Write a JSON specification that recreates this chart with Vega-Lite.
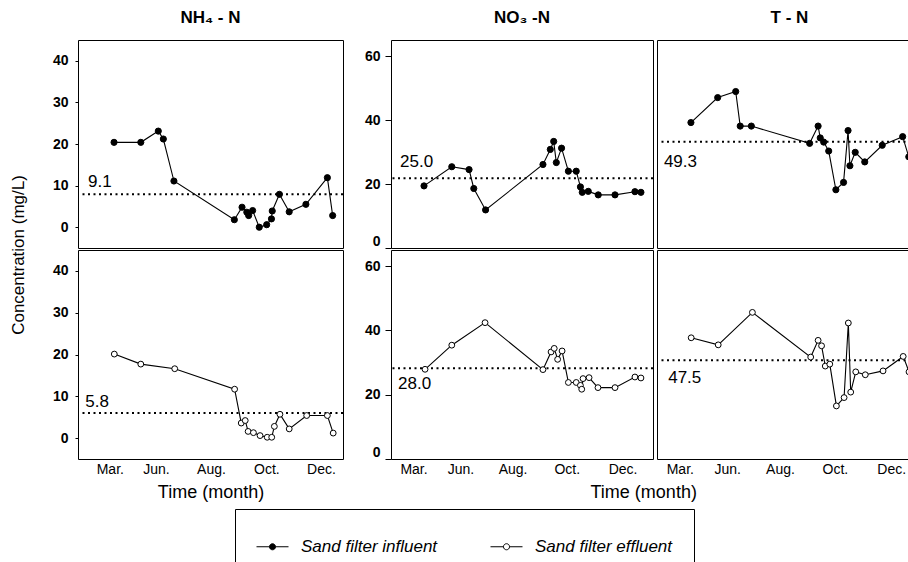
{
  "$schema": "https://vega.github.io/schema/vega-lite/v6.json",
  "background": "white",
  "padding": {"left": 9, "top": 8, "right": 0, "bottom": 0},
  "config": {
    "font": "Liberation Sans",
    "view": {"stroke": "black", "strokeWidth": 1},
    "axis": {"labelColor": "black", "titleColor": "black", "tickColor": "black", "domainColor": "black", "grid": false, "labelFlush": false, "labelOverlap": false},
    "title": {"color": "black"}
  },
  "data": {"values": [
      {"kind": "obs", "panel": "NH4", "series": "Sand filter influent", "t": 13.6, "value": 20.4},
      {"kind": "obs", "panel": "NH4", "series": "Sand filter influent", "t": 23.7, "value": 20.4},
      {"kind": "obs", "panel": "NH4", "series": "Sand filter influent", "t": 30.3, "value": 23.1},
      {"kind": "obs", "panel": "NH4", "series": "Sand filter influent", "t": 32.2, "value": 21.2},
      {"kind": "obs", "panel": "NH4", "series": "Sand filter influent", "t": 36.2, "value": 11.1},
      {"kind": "obs", "panel": "NH4", "series": "Sand filter influent", "t": 59.0, "value": 1.8},
      {"kind": "obs", "panel": "NH4", "series": "Sand filter influent", "t": 61.9, "value": 4.8},
      {"kind": "obs", "panel": "NH4", "series": "Sand filter influent", "t": 63.7, "value": 3.6},
      {"kind": "obs", "panel": "NH4", "series": "Sand filter influent", "t": 64.4, "value": 2.8},
      {"kind": "obs", "panel": "NH4", "series": "Sand filter influent", "t": 65.9, "value": 4.0},
      {"kind": "obs", "panel": "NH4", "series": "Sand filter influent", "t": 68.4, "value": 0.0},
      {"kind": "obs", "panel": "NH4", "series": "Sand filter influent", "t": 71.2, "value": 0.6},
      {"kind": "obs", "panel": "NH4", "series": "Sand filter influent", "t": 73.0, "value": 2.0},
      {"kind": "obs", "panel": "NH4", "series": "Sand filter influent", "t": 73.3, "value": 3.9},
      {"kind": "obs", "panel": "NH4", "series": "Sand filter influent", "t": 76.0, "value": 7.9},
      {"kind": "obs", "panel": "NH4", "series": "Sand filter influent", "t": 79.7, "value": 3.7},
      {"kind": "obs", "panel": "NH4", "series": "Sand filter influent", "t": 86.0, "value": 5.5},
      {"kind": "obs", "panel": "NH4", "series": "Sand filter influent", "t": 94.1, "value": 11.9},
      {"kind": "obs", "panel": "NH4", "series": "Sand filter influent", "t": 96.1, "value": 2.8},
      {"kind": "obs", "panel": "NH4", "series": "Sand filter effluent", "t": 13.7, "value": 20.1},
      {"kind": "obs", "panel": "NH4", "series": "Sand filter effluent", "t": 23.7, "value": 17.7},
      {"kind": "obs", "panel": "NH4", "series": "Sand filter effluent", "t": 36.5, "value": 16.6},
      {"kind": "obs", "panel": "NH4", "series": "Sand filter effluent", "t": 59.1, "value": 11.7},
      {"kind": "obs", "panel": "NH4", "series": "Sand filter effluent", "t": 61.6, "value": 3.6},
      {"kind": "obs", "panel": "NH4", "series": "Sand filter effluent", "t": 63.1, "value": 4.2},
      {"kind": "obs", "panel": "NH4", "series": "Sand filter effluent", "t": 64.2, "value": 1.6},
      {"kind": "obs", "panel": "NH4", "series": "Sand filter effluent", "t": 66.2, "value": 1.3},
      {"kind": "obs", "panel": "NH4", "series": "Sand filter effluent", "t": 68.7, "value": 0.6},
      {"kind": "obs", "panel": "NH4", "series": "Sand filter effluent", "t": 71.4, "value": 0.2},
      {"kind": "obs", "panel": "NH4", "series": "Sand filter effluent", "t": 73.1, "value": 0.2},
      {"kind": "obs", "panel": "NH4", "series": "Sand filter effluent", "t": 74.1, "value": 2.8},
      {"kind": "obs", "panel": "NH4", "series": "Sand filter effluent", "t": 76.2, "value": 5.7},
      {"kind": "obs", "panel": "NH4", "series": "Sand filter effluent", "t": 79.7, "value": 2.2},
      {"kind": "obs", "panel": "NH4", "series": "Sand filter effluent", "t": 86.3, "value": 5.4},
      {"kind": "obs", "panel": "NH4", "series": "Sand filter effluent", "t": 94.1, "value": 5.4},
      {"kind": "obs", "panel": "NH4", "series": "Sand filter effluent", "t": 96.3, "value": 1.2},
      {"kind": "obs", "panel": "NO3", "series": "Sand filter influent", "t": 12.6, "value": 19.4},
      {"kind": "obs", "panel": "NO3", "series": "Sand filter influent", "t": 23.2, "value": 25.4},
      {"kind": "obs", "panel": "NO3", "series": "Sand filter influent", "t": 29.8, "value": 24.5},
      {"kind": "obs", "panel": "NO3", "series": "Sand filter influent", "t": 31.6, "value": 18.6},
      {"kind": "obs", "panel": "NO3", "series": "Sand filter influent", "t": 36.1, "value": 11.9},
      {"kind": "obs", "panel": "NO3", "series": "Sand filter influent", "t": 58.0, "value": 26.1},
      {"kind": "obs", "panel": "NO3", "series": "Sand filter influent", "t": 60.8, "value": 30.8},
      {"kind": "obs", "panel": "NO3", "series": "Sand filter influent", "t": 62.1, "value": 33.3},
      {"kind": "obs", "panel": "NO3", "series": "Sand filter influent", "t": 63.1, "value": 26.7},
      {"kind": "obs", "panel": "NO3", "series": "Sand filter influent", "t": 65.1, "value": 31.2},
      {"kind": "obs", "panel": "NO3", "series": "Sand filter influent", "t": 67.7, "value": 24.0},
      {"kind": "obs", "panel": "NO3", "series": "Sand filter influent", "t": 70.7, "value": 24.0},
      {"kind": "obs", "panel": "NO3", "series": "Sand filter influent", "t": 72.3, "value": 19.1},
      {"kind": "obs", "panel": "NO3", "series": "Sand filter influent", "t": 73.0, "value": 17.4},
      {"kind": "obs", "panel": "NO3", "series": "Sand filter influent", "t": 75.3, "value": 17.7},
      {"kind": "obs", "panel": "NO3", "series": "Sand filter influent", "t": 79.1, "value": 16.6},
      {"kind": "obs", "panel": "NO3", "series": "Sand filter influent", "t": 85.5, "value": 16.6},
      {"kind": "obs", "panel": "NO3", "series": "Sand filter influent", "t": 93.1, "value": 17.6},
      {"kind": "obs", "panel": "NO3", "series": "Sand filter influent", "t": 95.4, "value": 17.4},
      {"kind": "obs", "panel": "NO3", "series": "Sand filter effluent", "t": 13.0, "value": 27.9},
      {"kind": "obs", "panel": "NO3", "series": "Sand filter effluent", "t": 23.2, "value": 35.4},
      {"kind": "obs", "panel": "NO3", "series": "Sand filter effluent", "t": 35.9, "value": 42.4},
      {"kind": "obs", "panel": "NO3", "series": "Sand filter effluent", "t": 58.0, "value": 27.8},
      {"kind": "obs", "panel": "NO3", "series": "Sand filter effluent", "t": 61.1, "value": 33.3},
      {"kind": "obs", "panel": "NO3", "series": "Sand filter effluent", "t": 62.3, "value": 34.4},
      {"kind": "obs", "panel": "NO3", "series": "Sand filter effluent", "t": 63.6, "value": 31.0},
      {"kind": "obs", "panel": "NO3", "series": "Sand filter effluent", "t": 65.3, "value": 33.6},
      {"kind": "obs", "panel": "NO3", "series": "Sand filter effluent", "t": 67.7, "value": 23.8},
      {"kind": "obs", "panel": "NO3", "series": "Sand filter effluent", "t": 70.7, "value": 23.8},
      {"kind": "obs", "panel": "NO3", "series": "Sand filter effluent", "t": 72.3, "value": 22.9},
      {"kind": "obs", "panel": "NO3", "series": "Sand filter effluent", "t": 72.8, "value": 21.7},
      {"kind": "obs", "panel": "NO3", "series": "Sand filter effluent", "t": 73.3, "value": 25.0},
      {"kind": "obs", "panel": "NO3", "series": "Sand filter effluent", "t": 75.6, "value": 25.3},
      {"kind": "obs", "panel": "NO3", "series": "Sand filter effluent", "t": 79.0, "value": 22.2},
      {"kind": "obs", "panel": "NO3", "series": "Sand filter effluent", "t": 85.5, "value": 22.2},
      {"kind": "obs", "panel": "NO3", "series": "Sand filter effluent", "t": 93.1, "value": 25.5},
      {"kind": "obs", "panel": "NO3", "series": "Sand filter effluent", "t": 95.4, "value": 25.2},
      {"kind": "obs", "panel": "TN", "series": "Sand filter influent", "t": 12.8, "value": 39.2},
      {"kind": "obs", "panel": "TN", "series": "Sand filter influent", "t": 22.9, "value": 47.0},
      {"kind": "obs", "panel": "TN", "series": "Sand filter influent", "t": 29.7, "value": 48.9},
      {"kind": "obs", "panel": "TN", "series": "Sand filter influent", "t": 31.4, "value": 38.1},
      {"kind": "obs", "panel": "TN", "series": "Sand filter influent", "t": 35.6, "value": 38.1},
      {"kind": "obs", "panel": "TN", "series": "Sand filter influent", "t": 57.6, "value": 32.7},
      {"kind": "obs", "panel": "TN", "series": "Sand filter influent", "t": 60.8, "value": 38.1},
      {"kind": "obs", "panel": "TN", "series": "Sand filter influent", "t": 61.6, "value": 34.4},
      {"kind": "obs", "panel": "TN", "series": "Sand filter influent", "t": 62.9, "value": 33.1},
      {"kind": "obs", "panel": "TN", "series": "Sand filter influent", "t": 64.8, "value": 30.3},
      {"kind": "obs", "panel": "TN", "series": "Sand filter influent", "t": 67.5, "value": 18.2},
      {"kind": "obs", "panel": "TN", "series": "Sand filter influent", "t": 70.4, "value": 20.5},
      {"kind": "obs", "panel": "TN", "series": "Sand filter influent", "t": 72.1, "value": 36.7},
      {"kind": "obs", "panel": "TN", "series": "Sand filter influent", "t": 72.8, "value": 25.7},
      {"kind": "obs", "panel": "TN", "series": "Sand filter influent", "t": 74.8, "value": 29.9},
      {"kind": "obs", "panel": "TN", "series": "Sand filter influent", "t": 78.4, "value": 26.9},
      {"kind": "obs", "panel": "TN", "series": "Sand filter influent", "t": 85.0, "value": 32.1},
      {"kind": "obs", "panel": "TN", "series": "Sand filter influent", "t": 92.7, "value": 34.8},
      {"kind": "obs", "panel": "TN", "series": "Sand filter influent", "t": 95.0, "value": 28.5},
      {"kind": "obs", "panel": "TN", "series": "Sand filter effluent", "t": 12.9, "value": 37.7},
      {"kind": "obs", "panel": "TN", "series": "Sand filter effluent", "t": 23.1, "value": 35.5},
      {"kind": "obs", "panel": "TN", "series": "Sand filter effluent", "t": 36.0, "value": 45.6},
      {"kind": "obs", "panel": "TN", "series": "Sand filter effluent", "t": 58.0, "value": 31.7},
      {"kind": "obs", "panel": "TN", "series": "Sand filter effluent", "t": 60.8, "value": 36.9},
      {"kind": "obs", "panel": "TN", "series": "Sand filter effluent", "t": 62.1, "value": 35.2},
      {"kind": "obs", "panel": "TN", "series": "Sand filter effluent", "t": 63.5, "value": 28.9},
      {"kind": "obs", "panel": "TN", "series": "Sand filter effluent", "t": 65.2, "value": 29.5},
      {"kind": "obs", "panel": "TN", "series": "Sand filter effluent", "t": 67.7, "value": 16.5},
      {"kind": "obs", "panel": "TN", "series": "Sand filter effluent", "t": 70.6, "value": 19.1},
      {"kind": "obs", "panel": "TN", "series": "Sand filter effluent", "t": 72.2, "value": 42.3},
      {"kind": "obs", "panel": "TN", "series": "Sand filter effluent", "t": 73.1, "value": 20.8},
      {"kind": "obs", "panel": "TN", "series": "Sand filter effluent", "t": 75.0, "value": 27.1},
      {"kind": "obs", "panel": "TN", "series": "Sand filter effluent", "t": 78.6, "value": 26.2},
      {"kind": "obs", "panel": "TN", "series": "Sand filter effluent", "t": 85.3, "value": 27.4},
      {"kind": "obs", "panel": "TN", "series": "Sand filter effluent", "t": 92.9, "value": 31.9},
      {"kind": "obs", "panel": "TN", "series": "Sand filter effluent", "t": 95.1, "value": 27.1},
      {"kind": "avg", "panel": "NH4", "series": "Sand filter influent", "avg": 7.9, "label": 9.1},
      {"kind": "avg", "panel": "NH4", "series": "Sand filter effluent", "avg": 6.0, "label": 5.8},
      {"kind": "avg", "panel": "NO3", "series": "Sand filter influent", "avg": 21.8, "label": 25.0},
      {"kind": "avg", "panel": "NO3", "series": "Sand filter effluent", "avg": 28.2, "label": 28.0},
      {"kind": "avg", "panel": "TN", "series": "Sand filter influent", "avg": 33.2, "label": 49.3},
      {"kind": "avg", "panel": "TN", "series": "Sand filter effluent", "avg": 30.7, "label": 47.5}
  ]},
  "hconcat": [
    {
      "title": {"text": "Concentration (mg/L)", "orient": "left", "anchor": "middle", "fontSize": 17, "fontWeight": "normal", "offset": 24},
      "vconcat": [
        {
          "width": 265, "height": 208,
          "title": {"text": "NH₄ - N", "fontSize": 17, "fontWeight": "bold", "offset": 13},
          "layer": [
            {"transform": [{"filter": "datum.kind == 'avg' && datum.panel == 'NH4' && datum.series == 'Sand filter influent'"}], "mark": {"type": "rule", "color": "black", "strokeWidth": 2, "strokeDash": [2, 3.5]},
             "encoding": {"y": {"field": "avg", "type": "quantitative", "scale": {"domain": [-5, 45], "nice": false, "zero": false}, "axis": {"values": [0, 10, 20, 30, 40], "title": null, "labelFontSize": 14, "labelFontWeight": "bold", "tickSize": 3, "labelPadding": 7, "labelOverlap": false, "domain": false}}}},
            {"transform": [{"filter": "datum.panel == 'NH4' && datum.series == 'Sand filter influent'"}], "mark": {"type": "text", "align": "left", "baseline": "middle", "dx": -26, "dy": -12, "fontSize": 17, "color": "black"},
             "encoding": {"x": {"aggregate": "min", "field": "t", "type": "quantitative", "axis": null}, "y": {"aggregate": "max", "field": "avg", "type": "quantitative"}, "text": {"aggregate": "max", "field": "label", "type": "quantitative", "format": ".1f"}}},
            {"transform": [{"filter": "datum.kind == 'obs' && datum.panel == 'NH4' && datum.series == 'Sand filter influent'"}], "mark": {"type": "line", "color": "black", "strokeWidth": 1.1},
             "encoding": {"x": {"field": "t", "type": "quantitative", "scale": {"domain": [0, 100], "nice": false}, "axis": null}, "y": {"field": "value", "type": "quantitative"}}},
            {"transform": [{"filter": "datum.kind == 'obs' && datum.panel == 'NH4' && datum.series == 'Sand filter influent'"}], "mark": {"type": "point", "shape": "circle", "filled": true, "size": 38, "stroke": "black", "strokeWidth": 1, "opacity": 1},
             "encoding": {"x": {"field": "t", "type": "quantitative", "axis": null}, "y": {"field": "value", "type": "quantitative"}, "fill": {"field": "series", "type": "nominal", "scale": {"domain": ["Sand filter influent", "Sand filter effluent"], "range": ["black", "white"]}, "legend": {"title": null, "orient": "none", "legendX": 157, "legendY": 469, "direction": "horizontal", "symbolType": "M-1,0H-0.19M0.19,0H1M-0.19,0A0.19,0.19 0 1,0 0.19,0A0.19,0.19 0 1,0 -0.19,0Z", "symbolSize": 1024, "symbolStrokeColor": "black", "symbolStrokeWidth": 1, "labelFontSize": 17, "labelFontStyle": "italic", "labelColor": "black", "labelOffset": 12, "labelLimit": 400, "columnPadding": 50, "padding": 21, "strokeColor": "black", "fillColor": "white"}}}}
          ]
        },
        {
          "width": 265, "height": 209,
          "layer": [
            {"transform": [{"filter": "datum.kind == 'avg' && datum.panel == 'NH4' && datum.series == 'Sand filter effluent'"}], "mark": {"type": "rule", "color": "black", "strokeWidth": 2, "strokeDash": [2, 3.5]},
             "encoding": {"y": {"field": "avg", "type": "quantitative", "scale": {"domain": [-5, 45], "nice": false, "zero": false}, "axis": {"values": [0, 10, 20, 30, 40], "title": null, "labelFontSize": 14, "labelFontWeight": "bold", "tickSize": 3, "labelPadding": 7, "labelOverlap": false, "domain": false}}}},
            {"transform": [{"filter": "datum.panel == 'NH4' && datum.series == 'Sand filter effluent'"}], "mark": {"type": "text", "align": "left", "baseline": "middle", "dx": -29, "dy": -11, "fontSize": 17, "color": "black"},
             "encoding": {"x": {"aggregate": "min", "field": "t", "type": "quantitative"}, "y": {"aggregate": "max", "field": "avg", "type": "quantitative"}, "text": {"aggregate": "max", "field": "label", "type": "quantitative", "format": ".1f"}}},
            {"transform": [{"filter": "datum.kind == 'obs' && datum.panel == 'NH4' && datum.series == 'Sand filter effluent'"}], "mark": {"type": "line", "color": "black", "strokeWidth": 1.1},
             "encoding": {"x": {"field": "t", "type": "quantitative", "scale": {"domain": [0, 100], "nice": false}, "axis": {"values": [12, 29.4, 50.2, 71.1, 91.7], "labelExpr": "datum.value < 20 ? 'Mar.' : datum.value < 40 ? 'Jun.' : datum.value < 60 ? 'Aug.' : datum.value < 80 ? 'Oct.' : 'Dec.'", "ticks": false, "domain": false, "labelPadding": 3, "labelFontSize": 14, "title": "Time (month)", "titleFontSize": 18, "titleFontWeight": "normal", "titlePadding": 7}}, "y": {"field": "value", "type": "quantitative"}}},
            {"transform": [{"filter": "datum.kind == 'obs' && datum.panel == 'NH4' && datum.series == 'Sand filter effluent'"}], "mark": {"type": "point", "shape": "circle", "filled": true, "size": 34, "stroke": "black", "strokeWidth": 1, "opacity": 1},
             "encoding": {"x": {"field": "t", "type": "quantitative"}, "y": {"field": "value", "type": "quantitative"}, "fill": {"field": "series", "type": "nominal", "scale": {"domain": ["Sand filter influent", "Sand filter effluent"], "range": ["black", "white"]}, "legend": {"title": null, "orient": "none", "legendX": 157, "legendY": 469, "direction": "horizontal", "symbolType": "M-1,0H-0.19M0.19,0H1M-0.19,0A0.19,0.19 0 1,0 0.19,0A0.19,0.19 0 1,0 -0.19,0Z", "symbolSize": 1024, "symbolStrokeColor": "black", "symbolStrokeWidth": 1, "labelFontSize": 17, "labelFontStyle": "italic", "labelColor": "black", "labelOffset": 12, "labelLimit": 400, "columnPadding": 50, "padding": 21, "strokeColor": "black", "fillColor": "white"}}}}
          ]
        }
      ],
      "spacing": 0
    },
    {
      "title": {"text": "Time (month)", "orient": "bottom", "anchor": "middle", "fontSize": 18, "fontWeight": "normal", "offset": 7},
      "hconcat": [
        {
          "vconcat": [
            {
              "width": 262, "height": 208,
              "title": {"text": "NO₃ -N", "fontSize": 17, "fontWeight": "bold", "offset": 13},
              "layer": [
                {"transform": [{"filter": "datum.kind == 'avg' && datum.panel == 'NO3' && datum.series == 'Sand filter influent'"}], "mark": {"type": "rule", "color": "black", "strokeWidth": 2, "strokeDash": [2, 3.5]},
                 "encoding": {"y": {"field": "avg", "type": "quantitative", "scale": {"domain": [0, 65], "nice": false, "zero": false}, "axis": {"values": [0, 10, 20, 30, 40, 50, 60], "title": null, "labelFontSize": 14, "labelFontWeight": "bold", "tickSize": 6, "labelPadding": 5, "labelFlush": true, "labelOverlap": false, "domain": false}}}},
                {"transform": [{"filter": "datum.panel == 'NO3' && datum.series == 'Sand filter influent'"}], "mark": {"type": "text", "align": "left", "baseline": "middle", "dx": -24, "dy": -16, "fontSize": 17, "color": "black"},
                 "encoding": {"x": {"aggregate": "min", "field": "t", "type": "quantitative", "axis": null}, "y": {"aggregate": "max", "field": "avg", "type": "quantitative"}, "text": {"aggregate": "max", "field": "label", "type": "quantitative", "format": ".1f"}}},
                {"transform": [{"filter": "datum.kind == 'obs' && datum.panel == 'NO3' && datum.series == 'Sand filter influent'"}], "mark": {"type": "line", "color": "black", "strokeWidth": 1.1},
                 "encoding": {"x": {"field": "t", "type": "quantitative", "scale": {"domain": [0, 100], "nice": false}, "axis": null}, "y": {"field": "value", "type": "quantitative"}}},
                {"transform": [{"filter": "datum.kind == 'obs' && datum.panel == 'NO3' && datum.series == 'Sand filter influent'"}], "mark": {"type": "point", "shape": "circle", "filled": true, "size": 38, "stroke": "black", "strokeWidth": 1, "opacity": 1},
                 "encoding": {"x": {"field": "t", "type": "quantitative", "axis": null}, "y": {"field": "value", "type": "quantitative"}, "fill": {"field": "series", "type": "nominal", "scale": {"domain": ["Sand filter influent", "Sand filter effluent"], "range": ["black", "white"]}, "legend": {"title": null, "orient": "none", "legendX": 157, "legendY": 469, "direction": "horizontal", "symbolType": "M-1,0H-0.19M0.19,0H1M-0.19,0A0.19,0.19 0 1,0 0.19,0A0.19,0.19 0 1,0 -0.19,0Z", "symbolSize": 1024, "symbolStrokeColor": "black", "symbolStrokeWidth": 1, "labelFontSize": 17, "labelFontStyle": "italic", "labelColor": "black", "labelOffset": 12, "labelLimit": 400, "columnPadding": 50, "padding": 21, "strokeColor": "black", "fillColor": "white"}}}}
              ]
            },
            {
              "width": 262, "height": 209,
              "layer": [
                {"transform": [{"filter": "datum.kind == 'avg' && datum.panel == 'NO3' && datum.series == 'Sand filter effluent'"}], "mark": {"type": "rule", "color": "black", "strokeWidth": 2, "strokeDash": [2, 3.5]},
                 "encoding": {"y": {"field": "avg", "type": "quantitative", "scale": {"domain": [0, 65], "nice": false, "zero": false}, "axis": {"values": [0, 10, 20, 30, 40, 50, 60], "title": null, "labelFontSize": 14, "labelFontWeight": "bold", "tickSize": 6, "labelPadding": 5, "labelFlush": true, "labelOverlap": false, "domain": false}}}},
                {"transform": [{"filter": "datum.panel == 'NO3' && datum.series == 'Sand filter effluent'"}], "mark": {"type": "text", "align": "left", "baseline": "middle", "dx": -27, "dy": 16, "fontSize": 17, "color": "black"},
                 "encoding": {"x": {"aggregate": "min", "field": "t", "type": "quantitative"}, "y": {"aggregate": "max", "field": "avg", "type": "quantitative"}, "text": {"aggregate": "max", "field": "label", "type": "quantitative", "format": ".1f"}}},
                {"transform": [{"filter": "datum.kind == 'obs' && datum.panel == 'NO3' && datum.series == 'Sand filter effluent'"}], "mark": {"type": "line", "color": "black", "strokeWidth": 1.1},
                 "encoding": {"x": {"field": "t", "type": "quantitative", "scale": {"domain": [0, 100], "nice": false}, "axis": {"values": [8.6, 26.5, 46.4, 67.1, 88.4], "labelExpr": "datum.value < 20 ? 'Mar.' : datum.value < 40 ? 'Jun.' : datum.value < 60 ? 'Aug.' : datum.value < 80 ? 'Oct.' : 'Dec.'", "ticks": false, "domain": false, "labelPadding": 3, "labelFontSize": 14, "title": null}}, "y": {"field": "value", "type": "quantitative"}}},
                {"transform": [{"filter": "datum.kind == 'obs' && datum.panel == 'NO3' && datum.series == 'Sand filter effluent'"}], "mark": {"type": "point", "shape": "circle", "filled": true, "size": 34, "stroke": "black", "strokeWidth": 1, "opacity": 1},
                 "encoding": {"x": {"field": "t", "type": "quantitative"}, "y": {"field": "value", "type": "quantitative"}, "fill": {"field": "series", "type": "nominal", "scale": {"domain": ["Sand filter influent", "Sand filter effluent"], "range": ["black", "white"]}, "legend": {"title": null, "orient": "none", "legendX": 157, "legendY": 469, "direction": "horizontal", "symbolType": "M-1,0H-0.19M0.19,0H1M-0.19,0A0.19,0.19 0 1,0 0.19,0A0.19,0.19 0 1,0 -0.19,0Z", "symbolSize": 1024, "symbolStrokeColor": "black", "symbolStrokeWidth": 1, "labelFontSize": 17, "labelFontStyle": "italic", "labelColor": "black", "labelOffset": 12, "labelLimit": 400, "columnPadding": 50, "padding": 21, "strokeColor": "black", "fillColor": "white"}}}}
              ]
            }
          ],
          "spacing": 0
        },
        {
          "vconcat": [
            {
              "width": 265, "height": 208,
              "title": {"text": "T - N", "fontSize": 17, "fontWeight": "bold", "offset": 13},
              "layer": [
                {"transform": [{"filter": "datum.kind == 'avg' && datum.panel == 'TN' && datum.series == 'Sand filter influent'"}], "mark": {"type": "rule", "color": "black", "strokeWidth": 2, "strokeDash": [2, 3.5]},
                 "encoding": {"y": {"field": "avg", "type": "quantitative", "scale": {"domain": [0, 65], "nice": false, "zero": false}, "axis": null}}},
                {"transform": [{"filter": "datum.panel == 'TN' && datum.series == 'Sand filter influent'"}], "mark": {"type": "text", "align": "left", "baseline": "middle", "dx": -27, "dy": 20, "fontSize": 17, "color": "black"},
                 "encoding": {"x": {"aggregate": "min", "field": "t", "type": "quantitative", "axis": null}, "y": {"aggregate": "max", "field": "avg", "type": "quantitative", "axis": null}, "text": {"aggregate": "max", "field": "label", "type": "quantitative", "format": ".1f"}}},
                {"transform": [{"filter": "datum.kind == 'obs' && datum.panel == 'TN' && datum.series == 'Sand filter influent'"}], "mark": {"type": "line", "color": "black", "strokeWidth": 1.1},
                 "encoding": {"x": {"field": "t", "type": "quantitative", "scale": {"domain": [0, 100], "nice": false}, "axis": null}, "y": {"field": "value", "type": "quantitative", "axis": null}}},
                {"transform": [{"filter": "datum.kind == 'obs' && datum.panel == 'TN' && datum.series == 'Sand filter influent'"}], "mark": {"type": "point", "shape": "circle", "filled": true, "size": 38, "stroke": "black", "strokeWidth": 1, "opacity": 1},
                 "encoding": {"x": {"field": "t", "type": "quantitative", "axis": null}, "y": {"field": "value", "type": "quantitative", "axis": null}, "fill": {"field": "series", "type": "nominal", "scale": {"domain": ["Sand filter influent", "Sand filter effluent"], "range": ["black", "white"]}, "legend": {"title": null, "orient": "none", "legendX": 157, "legendY": 469, "direction": "horizontal", "symbolType": "M-1,0H-0.19M0.19,0H1M-0.19,0A0.19,0.19 0 1,0 0.19,0A0.19,0.19 0 1,0 -0.19,0Z", "symbolSize": 1024, "symbolStrokeColor": "black", "symbolStrokeWidth": 1, "labelFontSize": 17, "labelFontStyle": "italic", "labelColor": "black", "labelOffset": 12, "labelLimit": 400, "columnPadding": 50, "padding": 21, "strokeColor": "black", "fillColor": "white"}}}}
              ]
            },
            {
              "width": 265, "height": 209,
              "layer": [
                {"transform": [{"filter": "datum.kind == 'avg' && datum.panel == 'TN' && datum.series == 'Sand filter effluent'"}], "mark": {"type": "rule", "color": "black", "strokeWidth": 2, "strokeDash": [2, 3.5]},
                 "encoding": {"y": {"field": "avg", "type": "quantitative", "scale": {"domain": [0, 65], "nice": false, "zero": false}, "axis": null}}},
                {"transform": [{"filter": "datum.panel == 'TN' && datum.series == 'Sand filter effluent'"}], "mark": {"type": "text", "align": "left", "baseline": "middle", "dx": -23, "dy": 18, "fontSize": 17, "color": "black"},
                 "encoding": {"x": {"aggregate": "min", "field": "t", "type": "quantitative"}, "y": {"aggregate": "max", "field": "avg", "type": "quantitative", "axis": null}, "text": {"aggregate": "max", "field": "label", "type": "quantitative", "format": ".1f"}}},
                {"transform": [{"filter": "datum.kind == 'obs' && datum.panel == 'TN' && datum.series == 'Sand filter effluent'"}], "mark": {"type": "line", "color": "black", "strokeWidth": 1.1},
                 "encoding": {"x": {"field": "t", "type": "quantitative", "scale": {"domain": [0, 100], "nice": false}, "axis": {"values": [8.6, 26.5, 46.4, 67.1, 88.4], "labelExpr": "datum.value < 20 ? 'Mar.' : datum.value < 40 ? 'Jun.' : datum.value < 60 ? 'Aug.' : datum.value < 80 ? 'Oct.' : 'Dec.'", "ticks": false, "domain": false, "labelPadding": 3, "labelFontSize": 14, "title": null}}, "y": {"field": "value", "type": "quantitative", "axis": null}}},
                {"transform": [{"filter": "datum.kind == 'obs' && datum.panel == 'TN' && datum.series == 'Sand filter effluent'"}], "mark": {"type": "point", "shape": "circle", "filled": true, "size": 34, "stroke": "black", "strokeWidth": 1, "opacity": 1},
                 "encoding": {"x": {"field": "t", "type": "quantitative"}, "y": {"field": "value", "type": "quantitative", "axis": null}, "fill": {"field": "series", "type": "nominal", "scale": {"domain": ["Sand filter influent", "Sand filter effluent"], "range": ["black", "white"]}, "legend": {"title": null, "orient": "none", "legendX": 157, "legendY": 469, "direction": "horizontal", "symbolType": "M-1,0H-0.19M0.19,0H1M-0.19,0A0.19,0.19 0 1,0 0.19,0A0.19,0.19 0 1,0 -0.19,0Z", "symbolSize": 1024, "symbolStrokeColor": "black", "symbolStrokeWidth": 1, "labelFontSize": 17, "labelFontStyle": "italic", "labelColor": "black", "labelOffset": 12, "labelLimit": 400, "columnPadding": 50, "padding": 21, "strokeColor": "black", "fillColor": "white"}}}}
              ]
            }
          ],
          "spacing": 0
        }
      ],
      "spacing": 0
    }
  ],
  "spacing": 18
}
